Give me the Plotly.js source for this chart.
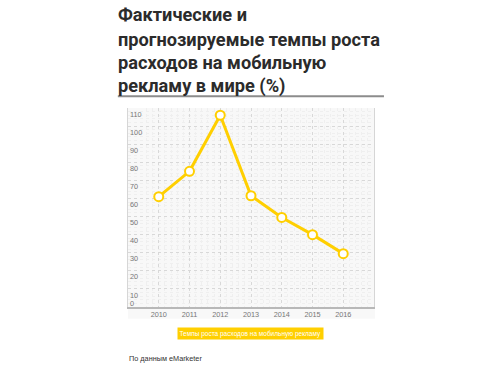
<!DOCTYPE html>
<html>
<head>
<meta charset="utf-8">
<script src="https://cdn.plot.ly/plotly-3.0.1.min.js"></script>
<style>
html,body{margin:0;padding:0;background:#fff;}
#chart{width:500px;height:370px;}
</style>
</head>
<body>
<div id="chart"></div>
<script>
// Data
const years = [2010, 2011, 2012, 2013, 2014, 2015, 2016];
const growth = [61, 75, 106, 61.5, 49.5, 40, 29.5];
const yTicks = [0, 10, 20, 30, 40, 50, 60, 70, 80, 90, 100, 110];
const titleLines = ["Фактические и", "прогнозируемые темпы роста", "расходов на мобильную", "рекламу в мире (%)"];
const seriesName = "Темпы роста расходов на мобильную рекламу";
const sourceText = "По данным eMarketer";

// Layout geometry (pixels)
const W = 500, H = 370;
const L = 127.5, R = 374.5, T = 108.3, B = 306.7;
const px = x => (x - L) / (R - L);
const py = y => (B - y) / (B - T);

const YEL = '#FFCF00';
const tickFont = {family: 'Liberation Sans, Arial, sans-serif', size: 7.3, color: '#777'};

const trace = {
  x: years, y: growth, type: 'scatter', mode: 'lines+markers', name: seriesName,
  line: {color: YEL, width: 3},
  marker: {size: 9, color: '#ffffff', line: {color: YEL, width: 2}},
  showlegend: false, cliponaxis: false
};

const titleCenters = [15, 40, 63.3, 86.5];
const annotations = titleLines.map((t, i) => ({
  text: t, xref: 'paper', yref: 'paper', x: px(115.5), y: py(titleCenters[i]),
  xanchor: 'left', yanchor: 'middle', showarrow: false,
  font: {family: 'Roboto, sans-serif', size: 18.2, color: '#2b2b2b', weight: 700}
}));
// label for the zero tick, placed through the y scale just above the axis
annotations.push({
  text: String(yTicks[0]), xref: 'paper', yref: 'y', x: px(128.5), y: yTicks[0],
  xanchor: 'left', yanchor: 'bottom', yshift: -1.5, showarrow: false, borderpad: 0,
  font: tickFont
});
annotations.push({
  text: seriesName, xref: 'paper', yref: 'paper', x: px(250.8), y: py(333.3),
  xanchor: 'center', yanchor: 'middle', showarrow: false,
  bgcolor: YEL, borderpad: 1.5,
  font: {family: 'Liberation Sans, Arial, sans-serif', size: 6.5, color: '#ffffff'}
});
annotations.push({
  text: sourceText, xref: 'paper', yref: 'paper', x: px(126.5), y: py(358),
  xanchor: 'left', yanchor: 'middle', showarrow: false,
  font: {family: 'Liberation Sans, Arial, sans-serif', size: 7.3, color: '#333'}
});

const layout = {
  width: W, height: H,
  margin: {l: L, r: W - R, t: T, b: H - B, pad: 0},
  paper_bgcolor: '#ffffff', plot_bgcolor: '#f8f8f8',
  xaxis: {
    range: [2009, 2017], tickvals: years, ticktext: years.map(String),
    showgrid: true, gridcolor: '#d8d8d8', griddash: 'dot', gridwidth: 1,
    minor: {dtick: 0.2, showgrid: true, gridcolor: '#efefef', griddash: 'dot'},
    showline: true, linecolor: '#b8b8b8', linewidth: 1.5,
    ticks: '', zeroline: false, tickfont: tickFont, fixedrange: true
  },
  yaxis: {
    range: [0, 110], tickvals: yTicks, ticktext: yTicks.map(String),
    showgrid: true, gridcolor: '#d8d8d8', griddash: 'dot', gridwidth: 1,
    minor: {dtick: 2, showgrid: true, gridcolor: '#efefef', griddash: 'dot'},
    showline: true, mirror: true, linecolor: '#d6d6d6', linewidth: 1,
    ticks: '', zeroline: false, ticklabelposition: 'inside bottom', ticklabelshift: 1,
    tickfont: tickFont, fixedrange: true
  },
  shapes: [
    {type: 'line', xref: 'paper', yref: 'paper', x0: px(117.3), x1: px(384.5), y0: py(96.7), y1: py(96.7),
     line: {color: '#8c8c8c', width: 2}},
    {type: 'rect', xref: 'paper', yref: 'paper', x0: px(127.5), x1: px(375.5), y0: py(306.7), y1: py(318.3),
     fillcolor: '#f8f8f8', line: {width: 0}, layer: 'below'}
  ],
  annotations: annotations,
  showlegend: false
};

Plotly.newPlot('chart', [trace], layout, {displayModeBar: false, staticPlot: true});
</script>
</body>
</html>
